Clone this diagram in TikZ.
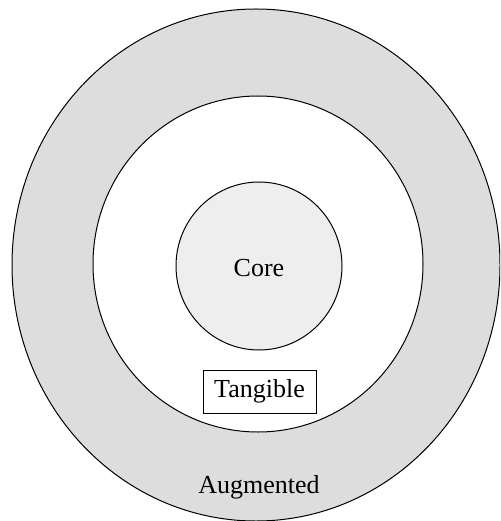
\documentclass[tikz,border=0pt]{standalone}
\usepackage{fontspec}
\setmainfont{Liberation Serif}
\usetikzlibrary{shapes.geometric}
\definecolor{ringgray}{HTML}{DDDDDD}
\definecolor{coregray}{HTML}{EEEEEE}
\tikzset{
  ring/.style={ellipse, draw=black, line width=1pt, inner sep=0pt},
  lbl/.style={font=\fontsize{26}{30}\selectfont, inner sep=0pt},
  tagbox/.style={draw=black, line width=0.8pt, fill=white, minimum width=113pt, minimum height=43pt, font=\fontsize{26}{30}\selectfont}
}
\begin{document}
\begin{tikzpicture}[x=1pt, y=-1pt]
  \useasboundingbox (0,0) rectangle (500,521);
  \begin{scope}
    \clip (0,0) rectangle (500,521);
    \node[ring, fill=ringgray, minimum width=488pt, minimum height=512pt] (augmented) at (256,265) {};
    \node[ring, fill=white, minimum width=330pt, minimum height=336pt] (tangible) at (258,264) {};
    \node[ring, fill=coregray, minimum width=166pt, minimum height=168pt] (core) at (259,266) {};
  \end{scope}
  \node[lbl] (corelbl) at (259,268) {Core};
  \node[tagbox] (tanglbl) at (259.5,391.5) {Tangible};
  \node[lbl] (auglbl) at (259,487) {Augmented};
\end{tikzpicture}
\end{document}
